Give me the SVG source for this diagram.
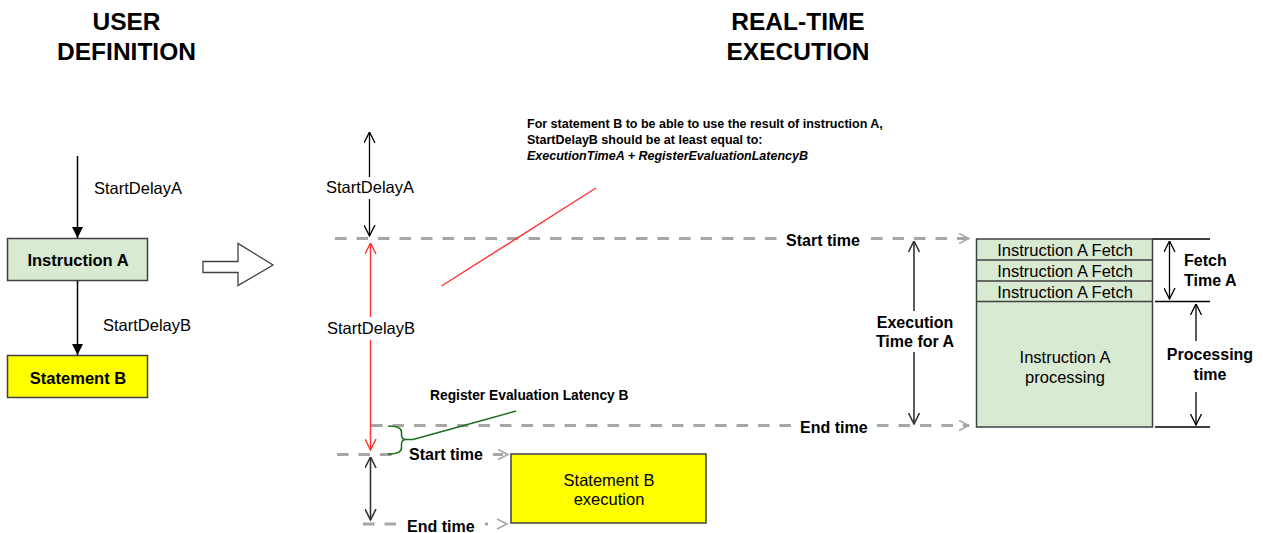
<svg xmlns="http://www.w3.org/2000/svg" width="1263" height="533" viewBox="0 0 1263 533">
<style>
text{font-family:"Liberation Sans",Arial,sans-serif;fill:#000}
.title{font-size:24.5px;font-weight:bold;text-anchor:middle}
.lbl{font-size:16.5px}
.b16{font-size:16px;font-weight:bold}
.mid{text-anchor:middle}
.note{font-size:12.5px;font-weight:bold}
.dash{stroke:#a6a6a6;stroke-width:3;stroke-dasharray:11.5 10;fill:none}
.blk{stroke:#000;stroke-width:1.3;fill:none}
.dk{stroke:#333;stroke-width:1.6;fill:none}
.red{stroke:#ff3333;stroke-width:1.4;fill:none}
.grn{stroke:#1a6e1a;stroke-width:1.5;fill:none}
.gch{stroke:#a6a6a6;stroke-width:1.5;fill:none}
.box{stroke:#404040;stroke-width:1.5}
.green{fill:#d9ead3}
.yellow{fill:#ffff00}
</style>
<defs>
<marker id="chevK" viewBox="0 0 12 12" refX="11.5" refY="6" markerWidth="12" markerHeight="12" markerUnits="userSpaceOnUse" orient="auto-start-reverse"><path d="M0.5,0.5 L11.5,6 L0.5,11.5" fill="none" stroke="#000" stroke-width="1.3"/></marker>
<marker id="chevD" viewBox="0 0 12 12" refX="11.5" refY="6" markerWidth="12" markerHeight="12" markerUnits="userSpaceOnUse" orient="auto-start-reverse"><path d="M0.5,0.5 L11.5,6 L0.5,11.5" fill="none" stroke="#333" stroke-width="1.6"/></marker>
<marker id="chevR" viewBox="0 0 12 12" refX="11.5" refY="6" markerWidth="12" markerHeight="12" markerUnits="userSpaceOnUse" orient="auto-start-reverse"><path d="M0.5,0.5 L11.5,6 L0.5,11.5" fill="none" stroke="#ff3333" stroke-width="1.4"/></marker>
<marker id="chevG" viewBox="0 0 12 12" refX="11" refY="6" markerWidth="12" markerHeight="12" markerUnits="userSpaceOnUse" orient="auto"><path d="M1,1 L11,6 L1,11" fill="none" stroke="#a6a6a6" stroke-width="1.5"/></marker>
<marker id="tri" viewBox="0 0 11 11" refX="11" refY="5.5" markerWidth="11" markerHeight="11" markerUnits="userSpaceOnUse" orient="auto"><path d="M0,0 L11,5.5 L0,11 Z" fill="#000"/></marker>
</defs>

<!-- titles -->
<text class="title" x="126.5" y="30">USER</text>
<text class="title" x="126.5" y="59.5">DEFINITION</text>
<text class="title" x="798" y="30">REAL-TIME</text>
<text class="title" x="798" y="59.5">EXECUTION</text>

<!-- left: user definition nodes -->
<g id="instructionA">
<rect class="box green" x="7.5" y="238.5" width="140" height="42"/>
<text class="b16 mid" x="78" y="266" style="font-size:16.5px">Instruction A</text>
</g>
<g id="statementB">
<rect class="box yellow" x="7.5" y="355.5" width="140" height="42"/>
<text class="b16 mid" x="78" y="384" style="font-size:16.5px">Statement B</text>
</g>
<g id="bigArrow">
<path d="M203,261.5 H238 V243.5 L273,265 L238,285.5 V272.5 H203 Z" fill="#fff" stroke="#404040" stroke-width="1.3"/>
</g>

<!-- right: execution nodes -->
<g id="instructionAExec">
<rect class="box green" x="976.5" y="239" width="176" height="188"/>
<line class="box" x1="976.5" y1="260" x2="1152.5" y2="260"/>
<line class="box" x1="976.5" y1="281" x2="1152.5" y2="281"/>
<line class="box" x1="976.5" y1="301.5" x2="1152.5" y2="301.5"/>
<text class="lbl mid" x="1065" y="256">Instruction A Fetch</text>
<text class="lbl mid" x="1065" y="277">Instruction A Fetch</text>
<text class="lbl mid" x="1065" y="298">Instruction A Fetch</text>
<text class="lbl mid" x="1065" y="363">Instruction A</text>
<text class="lbl mid" x="1065" y="383">processing</text>
</g>
<g id="statementBExec">
<rect class="box yellow" x="511" y="454" width="195" height="69"/>
<text class="lbl mid" x="609" y="486">Statement B</text>
<text class="lbl mid" x="609" y="505">execution</text>
</g>

<!-- connectors -->
<g id="connectors">
<!-- left -->
<line class="blk" x1="77.5" y1="156" x2="77.5" y2="238" marker-end="url(#tri)" style="stroke-width:1.5"/>
<line class="blk" x1="77.5" y1="281" x2="77.5" y2="355" marker-end="url(#tri)" style="stroke-width:1.5"/>

<!-- time lines -->
<line class="dash" x1="335" y1="238.5" x2="781" y2="238.5"/>
<line class="dash" x1="871" y1="238.5" x2="969" y2="238.5" marker-end="url(#chevG)"/>
<line class="dash" x1="371" y1="425.5" x2="792" y2="425.5"/>
<line class="dash" x1="877" y1="425.5" x2="969" y2="425.5" marker-end="url(#chevG)"/>
<line class="dash" x1="337" y1="454.5" x2="400" y2="454.5"/>
<line class="dash" x1="493" y1="454.5" x2="503" y2="454.5"/>
<path class="gch" d="M498,449.5 L508,454.5 L498,459.5"/>
<line class="dash" x1="363" y1="524" x2="398" y2="524"/>
<line class="dash" x1="485" y1="524" x2="488" y2="524" style="stroke-dasharray:none"/>
<path class="gch" d="M497,519 L507,524 L497,529"/>

<!-- StartDelayA span -->
<line class="blk" x1="369.5" y1="132" x2="369.5" y2="177" marker-start="url(#chevK)"/>
<line class="blk" x1="369.5" y1="199" x2="369.5" y2="236" marker-end="url(#chevK)"/>
<!-- StartDelayB span (red) -->
<line class="red" x1="370.5" y1="243" x2="370.5" y2="317" marker-start="url(#chevR)"/>
<line class="red" x1="370.5" y1="340" x2="370.5" y2="450" marker-end="url(#chevR)"/>
<!-- statement B exec span -->
<line class="dk" x1="370.5" y1="457" x2="370.5" y2="520" marker-start="url(#chevD)" marker-end="url(#chevD)"/>
<!-- Execution time for A -->
<line class="dk" x1="914" y1="241" x2="914" y2="311" marker-start="url(#chevD)"/>
<line class="dk" x1="914" y1="352" x2="914" y2="424" marker-end="url(#chevD)"/>
<!-- right dimension lines -->
<line class="blk" x1="1153" y1="239" x2="1210" y2="239"/>
<line class="blk" x1="1155" y1="301.5" x2="1210" y2="301.5"/>
<line class="blk" x1="1155" y1="427" x2="1210" y2="427"/>
<line class="blk" x1="1169.5" y1="241" x2="1169.5" y2="299" marker-start="url(#chevK)" marker-end="url(#chevK)"/>
<line class="blk" x1="1196" y1="304" x2="1196" y2="341" marker-start="url(#chevK)"/>
<line class="blk" x1="1196" y1="392" x2="1196" y2="425" marker-end="url(#chevK)"/>

<!-- annotations -->
<line class="red" x1="441.5" y1="286" x2="596" y2="188"/>
<path class="grn" d="M388,426 Q401.5,426 401.5,432 V435 Q401.5,439.5 406,439.5 H413 M406,439.5 Q401.5,439.5 401.5,444 V448 Q401.5,454 388,454"/>
<line class="grn" x1="413" y1="439.5" x2="516" y2="411"/>
</g>

<!-- labels -->
<text class="lbl" x="94" y="194">StartDelayA</text>
<text class="lbl" x="103" y="331">StartDelayB</text>
<text class="lbl mid" x="370" y="193">StartDelayA</text>
<text class="lbl mid" x="371" y="334">StartDelayB</text>
<text class="note" x="527" y="128">For statement B to be able to use the result of instruction A,</text>
<text class="note" x="527" y="144">StartDelayB should be at least equal to:</text>
<text class="note" x="527" y="160" font-style="italic">ExecutionTimeA + RegisterEvaluationLatencyB</text>
<text class="b16" x="430" y="400" style="font-size:13.8px">Register Evaluation Latency B</text>
<text class="b16" x="786" y="246">Start time</text>
<text class="b16" x="800" y="433">End time</text>
<text class="b16" x="409" y="460">Start time</text>
<text class="b16" x="407" y="532">End time</text>
<text class="b16 mid" x="915" y="328">Execution</text>
<text class="b16 mid" x="915" y="347">Time for A</text>
<text class="b16" x="1184" y="266">Fetch</text>
<text class="b16" x="1184" y="286">Time A</text>
<text class="b16 mid" x="1210" y="360">Processing</text>
<text class="b16 mid" x="1210" y="380">time</text>
</svg>
